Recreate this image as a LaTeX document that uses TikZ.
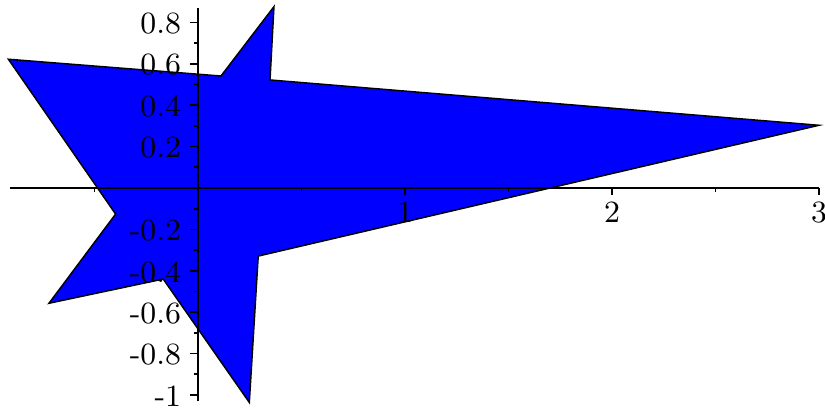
\documentclass[tikz,border=0pt]{standalone}
\begin{document}
\begin{tikzpicture}[x=2cm,y=2cm,
  axisline/.style={line width=0.55pt,black},
  majtick/.style={line width=0.45pt,black},
  lbl/.style={inner sep=0pt,font=\fontsize{8.5}{10}\selectfont},
  star/.style={fill={rgb,255:red,0;green,0;blue,255},draw=black,line width=0.4pt,line join=miter}]
\useasboundingbox (-0.9565,-1.0628) rectangle (3.029,0.9082);
% polygon
\coordinate (A) at (-0.916,0.622);
\coordinate (B) at (0.111,0.541);
\coordinate (C) at (0.367,0.876);
\coordinate (D) at (0.348,0.522);
\coordinate (E) at (3.000,0.303);
\coordinate (F) at (0.291,-0.329);
\coordinate (G) at (0.248,-1.036);
\coordinate (H) at (-0.168,-0.440);
\coordinate (I) at (-0.720,-0.557);
\coordinate (J) at (-0.398,-0.126);
\draw[star] (A) -- (B) -- (C) -- (D) -- (E) -- (F) -- (G) -- (H) -- (I) -- (J) -- cycle;
% axes
\coordinate (xl) at (-0.908,0);
\coordinate (xr) at (3.0,0);
\coordinate (yb) at (0,-1.03);
\coordinate (yt) at (0,0.868);
\draw[axisline] (xl) -- (xr);
\draw[axisline] (yb) -- (yt);
% x ticks
\foreach \x in {1,2,3} \draw[majtick] (\x,0) -- (\x,-0.036);
\foreach \x in {-0.5,0.5,1.5,2.5} \draw[majtick] (\x,0) -- (\x,-0.018);
\foreach \x in {1,2,3} \node[lbl,anchor=north] (xlab\x) at (\x,-0.066) {\x};
% y ticks
\foreach \y in {0.2,0.4,0.6,0.8,-0.2,-0.4,-0.6,-0.8,-1} \draw[majtick] (0,\y) -- (-0.039,\y);
\foreach \y in {0.1,0.3,0.5,0.7,-0.1,-0.3,-0.5,-0.7,-0.9} \draw[majtick] (0,\y) -- (-0.019,\y);
\foreach \y/\t [count=\i] in {0.8/0.8,0.6/0.6,0.4/0.4,0.2/0.2,-0.2/-0.2,-0.4/-0.4,-0.6/-0.6,-0.8/-0.8,-1/-1}
  \node[lbl,anchor=east] (ylab\i) at (-0.078,\y-0.006) {\t};
\end{tikzpicture}
\end{document}
